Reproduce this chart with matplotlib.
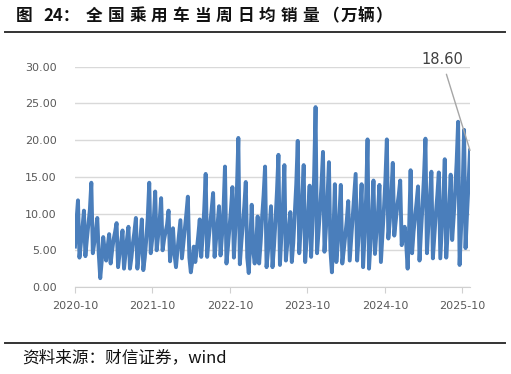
import numpy as np
import pandas as pd
import matplotlib
matplotlib.use("Agg")
from matplotlib import pyplot as plt
from matplotlib.lines import Line2D
import matplotlib.dates as mdates

plt.rcParams['font.family'] = ['Noto Sans CJK SC', 'DejaVu Sans']

# 当周日均销量（万辆），周度，2020-10 起
w2020_21 = [5.5, 9.0, 11.8, 4.0, 6.0, 8.0, 10.4, 4.2, 6.5, 8.5, 10.5, 14.2,
            4.6, 6.0, 7.5, 9.4, 4.5, 1.2, 3.5, 6.8, 5.0, 3.6, 5.5, 7.2,
            3.2, 5.0, 6.5, 7.5, 8.7, 2.7, 4.5, 6.0, 7.7, 2.5, 4.5, 6.5, 8.2,
            2.5, 4.0, 6.0, 7.5, 9.4, 2.5, 4.5, 6.5, 9.2, 2.3, 4.0, 6.5, 9.5, 14.2]
w2021_22 = [4.6, 6.5, 9.0, 13.0, 5.0, 7.0, 9.0, 12.1, 5.0, 6.5, 7.5, 8.5, 10.4,
            3.5, 5.5, 8.0, 4.5, 2.7, 5.0, 7.0, 9.1, 3.9, 6.0, 8.0, 10.0, 12.3,
            4.0, 2.0, 3.5, 5.5, 3.4, 5.0, 7.0, 9.2, 4.1, 7.0, 10.5, 15.4,
            4.1, 6.5, 8.5, 10.5, 12.8, 4.1, 6.5, 8.5, 11.0, 4.3, 7.0, 10.5, 16.4]
w2022_23 = [3.2, 5.5, 8.0, 10.5, 13.6, 4.0, 8.0, 13.0, 20.3, 3.1, 6.0, 8.5, 11.0, 14.3,
            4.0, 1.9, 6.0, 11.2, 5.0, 3.2, 6.0, 9.6, 3.2, 6.0, 9.5, 12.5, 16.4,
            2.7, 5.0, 8.0, 11.0, 2.7, 5.5, 9.0, 13.0, 18.0, 3.0, 7.0, 11.0, 16.6,
            3.6, 6.0, 8.0, 10.2, 3.4, 6.0, 10.0, 14.0, 19.9, 4.6, 8.0, 12.0, 16.6]
w2023_24 = [3.4, 6.5, 10.0, 13.8, 4.1, 9.0, 15.0, 24.5, 4.6, 7.5, 10.5, 14.0, 18.4,
            4.8, 8.0, 12.0, 17.0, 5.0, 2.0, 7.0, 14.0, 3.4, 6.0, 9.5, 13.9,
            3.2, 5.0, 7.0, 9.0, 11.7, 3.6, 6.5, 9.5, 12.5, 15.4, 3.6, 7.0, 10.0, 14.0,
            2.7, 7.0, 12.0, 20.1, 2.5, 6.0, 9.5, 14.5, 4.5, 7.5, 10.0, 13.9]
w2024_25 = [3.4, 7.0, 10.5, 14.5, 20.1, 6.6, 9.0, 12.5, 16.9, 7.0, 9.0, 11.0, 12.5, 14.5,
            5.7, 7.0, 8.2, 6.0, 2.5, 8.0, 15.9, 4.6, 7.5, 9.5, 11.5, 13.7,
            3.6, 7.5, 11.0, 15.0, 20.2, 4.6, 8.5, 12.0, 15.7, 3.9, 7.0, 10.0, 12.5, 15.6,
            3.9, 8.0, 12.0, 17.4, 4.0, 7.5, 11.0, 15.3,
            6.4, 9.5, 13.0, 17.0, 22.5, 3.0, 8.0, 13.0, 21.4, 5.3, 10.0, 14.0, 18.6]

values = w2020_21 + w2021_22 + w2022_23 + w2023_24 + w2024_25
dates = pd.date_range('2020-10-01', periods=len(values), freq='7D')
tick_dates = pd.to_datetime(['2020-10-01', '2021-10-01', '2022-10-01',
                             '2023-10-01', '2024-10-01', '2025-10-01'])
last_label = '18.60'
title_head = ['图', '24：']
title_body = '全国乘用车当周日均销量'
title_unit = '（万辆）'
source = '资料来源：财信证券，wind'

W, H = 511, 374
fig = plt.figure(figsize=(W / 100, H / 100), dpi=100)
ax = fig.add_axes([75 / W, 1 - 287 / H, 395 / W, (287 - 66.7) / H])

ax.plot(dates, values, color='#4a7ebb', lw=2.8, solid_joinstyle='round')

ax.set_ylim(0, 30)
ax.set_yticks(np.arange(0, 31, 5))
ax.yaxis.set_major_formatter(matplotlib.ticker.FormatStrFormatter('%.2f'))
ax.set_xlim(dates[0], dates[-1])
ax.set_xticks(tick_dates)
ax.xaxis.set_major_formatter(mdates.DateFormatter('%Y-%m'))

ax.grid(axis='y', color='#d9d9d9', lw=1)
ax.set_axisbelow(True)
for s in ['top', 'right', 'left']:
    ax.spines[s].set_visible(False)
ax.spines['bottom'].set_color('#d0d0d0')
ax.tick_params(axis='y', length=0, pad=13, labelsize=8, labelcolor='#595959')
ax.tick_params(axis='x', length=4, color='#d0d0d0', pad=6, labelsize=8, labelcolor='#595959')
for lab in ax.get_xticklabels() + ax.get_yticklabels():
    lab.set_family('DejaVu Sans')

ax.annotate(last_label, xy=(dates[-1], values[-1]), xytext=(442, H - 60),
            textcoords='figure pixels', ha='center', va='center',
            fontsize=10.5, color='#404040', family='DejaVu Sans',
            arrowprops=dict(arrowstyle='-', color='#a6a6a6', lw=1, shrinkA=3, shrinkB=0),
            annotation_clip=False)

# 标题：字间距较宽，逐字放置
ty = 1 - 16 / H
tkw = dict(fontsize=12, fontweight='bold', ha='left', va='center', color='#111111')
fig.text(16 / W, ty, title_head[0], **tkw)
fig.text(43 / W, ty, title_head[1], **tkw)
for k, ch in enumerate(title_body):
    fig.text((86 + 21.6 * k) / W, ty, ch, **tkw)
for k, ch in enumerate(title_unit):
    fig.text((323 + 17.5 * k) / W, ty, ch, **tkw)

fig.add_artist(Line2D([5 / W, 505 / W], [1 - 32 / H] * 2, color='#333333', lw=1.4))
fig.add_artist(Line2D([5 / W, 505 / W], [1 - 342.5 / H] * 2, color='#333333', lw=1.4))
fig.text(22 / W, 1 - 358 / H, source,
         fontsize=12, ha='left', va='center', color='#111111')

fig.savefig('out.png', dpi=100)
